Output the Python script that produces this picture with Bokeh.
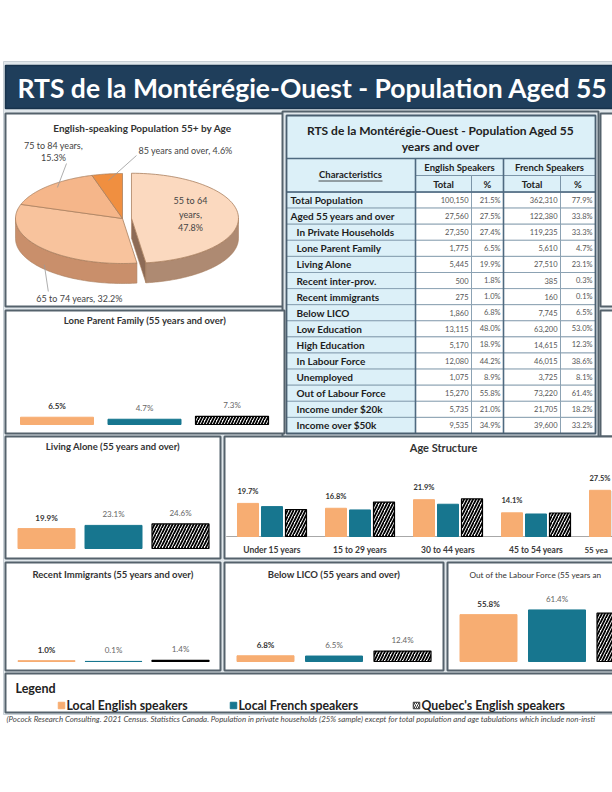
import numpy as np
from bokeh.plotting import figure
from bokeh.models import Range1d
from bokeh.core.properties import value
from bokeh.embed import file_html
from bokeh.resources import INLINE

# ---------------- data ----------------
page_title = "RTS de la Montérégie-Ouest - Population Aged 55"

pie_title = "English-speaking Population 55+ by Age"
pie_groups = ["55 to 64 years", "65 to 74 years", "75 to 84 years", "85 years and over"]
pie_shares = [47.8, 32.2, 15.3, 4.6]

table_title = ["RTS de la Montérégie-Ouest - Population Aged 55", "years and over"]
table_groups = ["English Speakers", "French Speakers"]
table_subheads = ["Total", "%", "Total", "%"]
characteristics = ["Total Population", "Aged 55 years and over", "In Private Households",
                   "Lone Parent Family", "Living Alone", "Recent inter-prov.",
                   "Recent immigrants", "Below LICO", "Low Education", "High Education",
                   "In Labour Force", "Unemployed", "Out of Labour Force",
                   "Income under $20k", "Income over $50k"]
eng_total = [100150, 27560, 27350, 1775, 5445, 500, 275, 1860, 13115, 5170, 12080, 1075, 15270, 5735, 9535]
eng_pct = [21.5, 27.5, 27.4, 6.5, 19.9, 1.8, 1.0, 6.8, 48.0, 18.9, 44.2, 8.9, 55.8, 21.0, 34.9]
fr_total = [362310, 122380, 119235, 5610, 27510, 385, 160, 7745, 63200, 14615, 46015, 3725, 73220, 21705, 39600]
fr_pct = [77.9, 33.8, 33.3, 4.7, 23.1, 0.3, 0.1, 6.5, 53.0, 12.3, 38.6, 8.1, 61.4, 18.2, 33.2]

series = ["Local English speakers", "Local French speakers", "Quebec's English speakers"]
lone_parent = [6.5, 4.7, 7.3]
living_alone = [19.9, 23.1, 24.6]
recent_immigrants = [1.0, 0.1, 1.4]
below_lico = [6.8, 6.5, 12.4]
out_of_labour = [55.8, 61.4, 57.5]

age_groups = ["Under 15 years", "15 to 29 years", "30 to 44 years", "45 to 54 years", "55 yea"]
age_eng = [19.7, 16.8, 21.9, 14.1, 27.5]
age_fr = [17.8, 15.8, 19.2, 13.4, 33.8]
age_qc = [16.0, 20.5, 22.4, 14.0, 27.1]

panel_titles = ["Lone Parent Family (55 years and over)", "Living Alone (55 years and over)",
                "Recent Immigrants (55 years and over)", "Below LICO (55 years and over)",
                "Out of the Labour Force (55 years an"]

footer_text = ("(Pocock Research Consulting. 2021 Census. Statistics Canada. Population in private "
               "households (25% sample) except for total population and age tabulations which include non-insti")

# ---------------- style ----------------
FONT = value("Lato")
ORANGE = "#f7ad72"
TEAL = "#17768f"
BG = "#e1e7eb"
BORDER = "#55626c"
NAVY = "#1f3e5b"
LIGHT = "#dcf0f8"
GRID = "#7c95a8"

W, H = 612, 770
X0, Y0 = 0, 0
X1, Y1 = X0 + W, Y0 + H

p = figure(width=W, height=H, x_range=Range1d(X0, X1), y_range=Range1d(Y1, Y0),
           output_backend="svg", toolbar_location=None, min_border=0,
           x_axis_location=None, y_axis_location=None, outline_line_color=None)
p.grid.visible = False
p.background_fill_color = "white"
p.border_fill_color = "white"

xr, yr = {}, {}


def sub(name, px0, kx, base, ky):
    xr[name] = Range1d((X0 - px0) / kx, (X1 - px0) / kx)
    yr[name] = Range1d((base - Y1) / ky, (base - Y0) / ky)


# sub-plot scales (pixel anchor, px per unit)
sub("lp", 56.5, 87.5, 424, 1.12)
sub("la", 46, 67, 548, 1.0)
sub("ri", 46, 67, 661, 0.84)
sub("lico", 265, 68.5, 661, 0.84)
sub("olf", 488, 68.5, 661, 0.84)
sub("age", 271.5, 88, 536, 1.68)
PIE_CX, PIE_CY, PIE_R = 122, 218, 107
sub("pie", PIE_CX, PIE_R, PIE_CY, PIE_R)
p.extra_x_ranges = xr
p.extra_y_ranges = yr


def txt(x, y, s, size, color="#333", style="normal", align="left", baseline="middle", **kw):
    p.text(x=list(x), y=list(y), text=list(s), text_font=FONT, text_font_size=size,
           text_color=color, text_font_style=style, text_align=align,
           text_baseline=baseline, **kw)


def box(l, r, t, b, fill="white", line=BORDER, lw=2):
    p.quad(left=[l], right=[r], top=[t], bottom=[b], fill_color=fill,
           line_color=line, line_width=lw)


# ---------------- background & header ----------------
p.quad(left=[3], right=[700], top=[61], bottom=[714], fill_color=BG, line_color="#c9d0d6", line_width=1)
box(5, 700, 65, 108, fill=NAVY, line="#17324b", lw=1.5)
txt([17], [87], [page_title], "26.5px", "white", "bold")

# ---------------- pie panel ----------------
box(5, 284, 113, 306)
txt([142], [127], [pie_title], "10px", "#333", "bold", "center")

t = 45 / PIE_R
d = 20 / PIE_R
e = 9 / PIE_R
tot = sum(pie_shares)
top_cols = ["#fbd9bf", "#f8c39d", "#f5b68a", "#f08f40"]
wall_cols = ["#ae8a72", "#c98f6b", "#c07c55", "#b8652a"]
edge = "#a9805f"

slices = []
a = 90.0
for s in pie_shares:
    a1 = a - 360.0 * s / tot
    slices.append((a, a1))
    a = a1

offsets = []
for i, (a0, a1) in enumerate(slices):
    if i == 0:
        m = np.radians((a0 + a1) / 2)
        offsets.append((e * np.cos(m), e * t * np.sin(m)))
    else:
        offsets.append((0.0, 0.0))


def arc(a0, a1, n=80):
    th = np.radians(np.linspace(a0, a1, n))
    return np.cos(th), t * np.sin(th)


def wall_polys(i):
    a0, a1 = slices[i]
    lo, hi = min(a0, a1), max(a0, a1)
    ox, oy = offsets[i]
    out = []
    for L, Hh in [(-180, 0), (180, 360), (-540, -360)]:
        s0, s1 = max(lo, L), min(hi, Hh)
        if s0 < s1:
            xs, ys = arc(s0, s1)
            px = list(xs + ox) + list((xs + ox)[::-1])
            py = list(ys + oy) + list((ys + oy - d)[::-1])
            out.append((px, py))
    return out


def top_poly(i):
    a0, a1 = slices[i]
    ox, oy = offsets[i]
    xs, ys = arc(a0, a1)
    return [ox] + list(xs + ox), [oy] + list(ys + oy)


pk = dict(x_range_name="pie", y_range_name="pie")
order = [1, 2, 3]
for i in order:
    for px, py in wall_polys(i):
        p.patch(px, py, fill_color=wall_cols[i], line_color=edge, line_width=0.6, **pk)
for i in order:
    px, py = top_poly(i)
    p.patch(px, py, fill_color=top_cols[i], line_color=edge, line_width=0.8, **pk)
# exploded slice
ox, oy = offsets[0]
ang = np.radians(slices[0][1])
fx = [ox, ox + np.cos(ang), ox + np.cos(ang), ox]
fy = [oy, oy + t * np.sin(ang), oy + t * np.sin(ang) - d, oy - d]
p.patch(fx, fy, fill_color="#8d6b56", line_color=edge, line_width=0.6, **pk)
for px, py in wall_polys(0):
    p.patch(px, py, fill_color=wall_cols[0], line_color=edge, line_width=0.6, **pk)
px, py = top_poly(0)
p.patch(px, py, fill_color=top_cols[0], line_color=edge, line_width=0.8, **pk)


def pie_px(i, r=1.0, drop=0.0):
    a0, a1 = slices[i]
    m = np.radians((a0 + a1) / 2)
    ox, oy = offsets[i]
    ux, uy = ox + r * np.cos(m), oy + r * t * np.sin(m) - drop
    return PIE_CX + PIE_R * ux, PIE_CY - PIE_R * uy


LBL = "#444444"
g0 = pie_groups[0].rsplit(" ", 1)
txt([190, 190, 190], [200, 213.5, 227], [g0[0], g0[1] + ",", f"{pie_shares[0]:.1f}%"], "9px", LBL, "normal", "center")
txt([79], [298], [f"{pie_groups[1]}, {pie_shares[1]:.1f}%"], "9px", LBL, "normal", "center")
ex, ey = pie_px(1, 0.95, d)
p.segment(x0=[ex], y0=[ey - 1], x1=[ex + 4], y1=[291], line_color="#999999", line_width=0.8)
txt([53, 53], [145, 157], [f"{pie_groups[2]},", f"{pie_shares[2]:.1f}%"], "9px", LBL, "normal", "center")
ex, ey = pie_px(2, 0.9)
p.segment(x0=[66], y0=[163], x1=[ex + 2], y1=[ey - 2], line_color="#999999", line_width=0.8)
txt([138], [150], [f"{pie_groups[3]}, {pie_shares[3]:.1f}%"], "9px", LBL, "normal", "left")
ex, ey = pie_px(3, 0.9)
p.segment(x0=[136], y0=[155], x1=[ex], y1=[ey + 2], line_color="#999999", line_width=0.8)

# ---------------- table ----------------
box(282, 598, 111, 437, fill=BG, line=BORDER, lw=2)
cols = [286, 415, 471, 503, 560, 595]
row_top, row_h = 191.5, 16.1
n = len(characteristics)
tops = [row_top + r * row_h for r in range(n)]
for c in range(5):
    p.quad(left=[cols[c]] * n, right=[cols[c + 1]] * n, top=tops, bottom=[tv + row_h for tv in tops],
           fill_color=LIGHT if c == 0 else "white", line_color=GRID, line_width=0.8)
p.quad(left=[286], right=[595], top=[115], bottom=[158], fill_color=LIGHT, line_color=GRID, line_width=1)
p.quad(left=[286, 415, 503], right=[415, 503, 595], top=[158, 158, 158], bottom=[191.5, 175, 175],
       fill_color=LIGHT, line_color=GRID, line_width=1)
p.quad(left=cols[1:5], right=cols[2:6], top=[175] * 4, bottom=[191.5] * 4,
       fill_color=LIGHT, line_color=GRID, line_width=1)
p.segment(x0=[503, 415], y0=[158, 158], x1=[503, 415], y1=[433, 433], line_color="#4f6a80", line_width=1.6)
p.segment(x0=[286, 286], y0=[158, 191.5], x1=[595, 595], y1=[158, 191.5], line_color="#4f6a80", line_width=1.4)
p.quad(left=[286], right=[595], top=[115], bottom=[433], fill_color=None, line_color="#4a5f70", line_width=1.8)

txt([440, 440], [130, 145.5], table_title, "12px", "#222", "bold", "center")
txt([459, 549], [166.5, 166.5], table_groups, "9.5px", "#222", "bold", "center")
txt([(cols[i] + cols[i + 1]) / 2 for i in range(1, 5)], [183.5] * 4, table_subheads, "9.5px", "#222", "bold", "center")
txt([350], [174], ["Characteristics"], "9.5px", "#222", "bold", "center")
p.segment(x0=[318], y0=[180.5], x1=[382], y1=[180.5], line_color="#222", line_width=0.8)

mids = [tv + row_h / 2 for tv in tops]
txt([290 if r < 2 else 296 for r in range(n)], mids, characteristics, "10px", "#1d1d1d", "bold", "left")
txt([cols[2] - 3] * n, mids, [f"{v:,}" for v in eng_total], "7.5px", "#555", "normal", "right")
txt([cols[3] - 3] * n, mids, [f"{v:.1f}%" for v in eng_pct], "7.5px", "#555", "normal", "right")
txt([cols[4] - 3] * n, mids, [f"{v:,}" for v in fr_total], "7.5px", "#555", "normal", "right")
txt([cols[5] - 3] * n, mids, [f"{v:.1f}%" for v in fr_pct], "7.5px", "#555", "normal", "right")

# right edge panels (cut by page)
box(600, 700, 113, 306)
box(600, 700, 310, 436)


# ---------------- small bar panels ----------------
def bar_panel(name, vals, title, L, R, T, B, step, bw, ty, tstyle="bold", nlab=3, tsize="9.5px"):
    box(L, R, T, B)
    if R < 612:
        txt([(L + R) / 2], [ty], [title], tsize, "#333", tstyle, "center")
    else:
        txt([L + 22], [ty], [title], tsize, "#333", tstyle, "left")
    kw = dict(x_range_name=name, y_range_name=name)
    idx = list(range(len(vals)))
    w = bw / step
    p.vbar(x=idx[:1], top=vals[:1], bottom=0, width=w, fill_color=ORANGE, line_color=ORANGE, line_width=1, **kw)
    p.vbar(x=idx[1:2], top=vals[1:2], bottom=0, width=w, fill_color=TEAL, line_color=TEAL, line_width=1, **kw)
    p.vbar(x=idx[2:3], top=vals[2:3], bottom=0, width=w, fill_color="white", line_color="black",
           line_width=1.2, hatch_pattern="/", hatch_color="black", hatch_weight=1.8, hatch_scale=6, **kw)
    labels = [f"{v:.1f}%" for v in vals]
    p.text(x=idx[:1], y=vals[:1], text=labels[:1], y_offset=-11, text_font=FONT, text_font_size="8px",
           text_color="#333", text_font_style="bold", text_align="center", text_baseline="middle", **kw)
    p.text(x=idx[1:nlab], y=vals[1:nlab], text=labels[1:nlab], y_offset=-11, text_font=FONT, text_font_size="8px",
           text_color="#666", text_font_style="normal", text_align="center", text_baseline="middle", **kw)


bar_panel("lp", lone_parent, panel_titles[0], 5, 284, 310, 433, 87.5, 73, 320)
bar_panel("la", living_alone, panel_titles[1], 5, 220, 436, 558, 67, 57, 446)
bar_panel("ri", recent_immigrants, panel_titles[2], 5, 220, 562, 670, 67, 57, 574)
bar_panel("lico", below_lico, panel_titles[3], 224, 443, 562, 670, 68.5, 57, 574)
bar_panel("olf", out_of_labour, panel_titles[4], 447, 700, 562, 670, 68.5, 57, 574, "normal", nlab=2, tsize="8.2px")

# ---------------- age structure ----------------
box(224, 700, 436, 558)
txt([443], [447], ["Age Structure"], "11px", "#333", "bold", "center")
ak = dict(x_range_name="age", y_range_name="age")
aidx = np.arange(len(age_groups))
off, abw = 24 / 88, 21 / 88
p.segment(x0=[-0.52], y0=[0], x1=[len(age_groups)], y1=[0], line_color="#a8a8a8", line_width=1, **ak)
p.vbar(x=list(aidx - off), top=age_eng, bottom=0, width=abw, fill_color=ORANGE, line_color=ORANGE, **ak)
p.vbar(x=list(aidx), top=age_fr, bottom=0, width=abw, fill_color=TEAL, line_color=TEAL, **ak)
p.vbar(x=list(aidx + off), top=age_qc, bottom=0, width=abw, fill_color="white", line_color="black",
       line_width=1.2, hatch_pattern="/", hatch_color="black", hatch_weight=1.8, hatch_scale=6, **ak)
p.text(x=list(aidx - off), y=age_eng, text=[f"{v:.1f}%" for v in age_eng], y_offset=-12,
       text_font=FONT, text_font_size="7.5px", text_color="#333", text_font_style="bold",
       text_align="center", text_baseline="middle", **ak)
p.text(x=list(aidx[:-1]), y=[0] * (len(age_groups) - 1), text=age_groups[:-1], y_offset=13.5,
       text_font=FONT, text_font_size="8.5px", text_color="#3a3a3a", text_font_style="bold",
       text_align="center", text_baseline="middle", **ak)
p.text(x=list(aidx[-1:] - 0.45), y=[0], text=age_groups[-1:], y_offset=13.5,
       text_font=FONT, text_font_size="8px", text_color="#3a3a3a", text_font_style="bold",
       text_align="left", text_baseline="middle", **ak)

# ---------------- legend ----------------
box(5, 700, 673, 712)
txt([15], [688], ["Legend"], "12.5px", "#222", "bold")
lx = [61, 233, 416]
p.rect(x=lx[:1], y=[705], width=6.5, height=6.5, fill_color=ORANGE, line_color=ORANGE)
p.rect(x=lx[1:2], y=[705], width=6.5, height=6.5, fill_color=TEAL, line_color=TEAL)
p.rect(x=lx[2:3], y=[705], width=6.5, height=6.5, fill_color="white", line_color="#333",
       hatch_pattern="/", hatch_color="#333", hatch_weight=1, hatch_scale=4)
txt([x + 5 for x in lx], [705] * 3, series, "12.3px", "#222", "bold")

# ---------------- footer ----------------
txt([6], [718], [footer_text], "7.9px", "#444", "italic")

open("out.html", "w").write(file_html(p, INLINE))
